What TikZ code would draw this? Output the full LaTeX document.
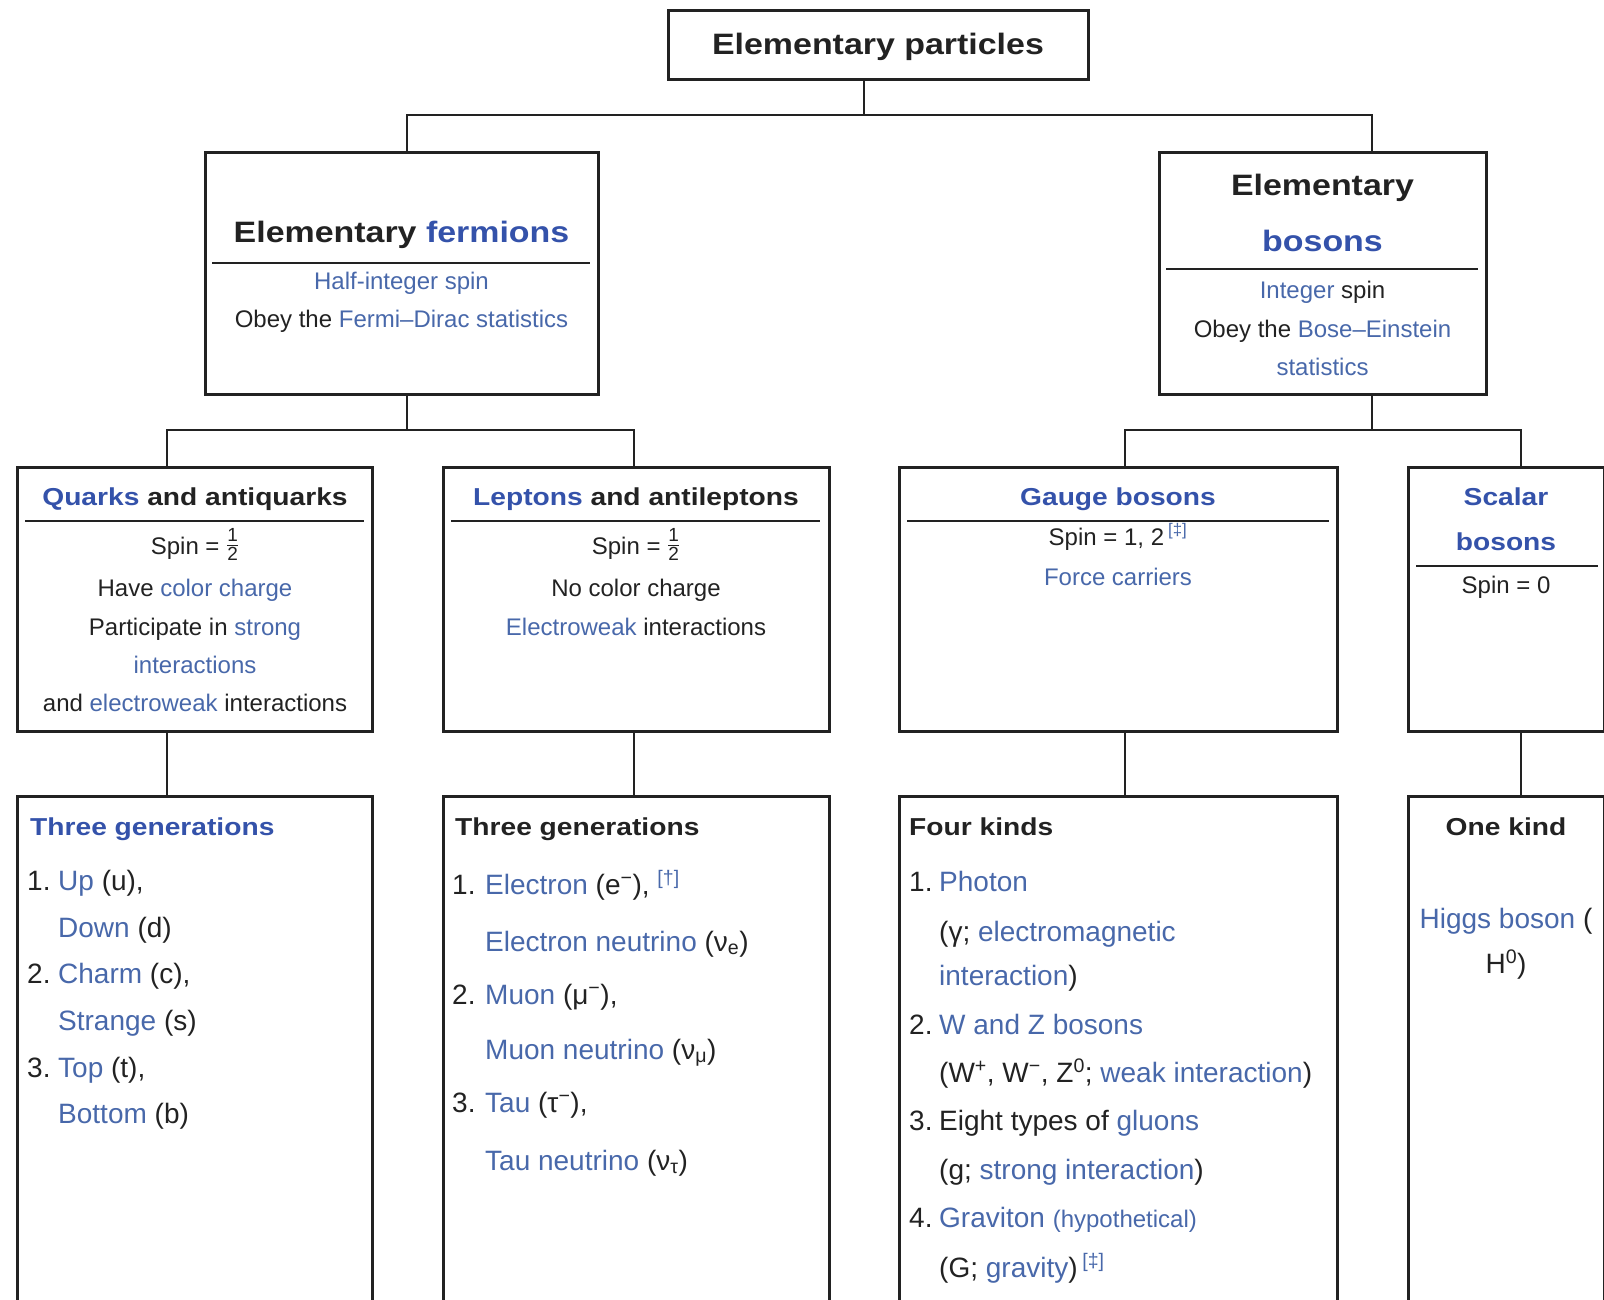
\documentclass[tikz,border=0pt]{standalone}
\usepackage{amsmath}
\usepackage{fontspec}
\setmainfont{Liberation Sans}[BoldFeatures={FakeStretch=1.15}]
\definecolor{ink}{RGB}{34,34,34}
\definecolor{linkblue}{RGB}{72,104,170}
\definecolor{headblue}{RGB}{52,82,170}
\newcommand{\lnk}[1]{\textcolor{linkblue}{#1}}
\newcommand{\hlnk}[1]{\textcolor{headblue}{#1}}
\newcommand{\fnote}[1]{\textsuperscript{\lnk{[#1]}}}
\newcommand{\fracnum}[1]{\text{\fontsize{19}{19}\selectfont #1}}
\newcommand{\spinhalf}{\raisebox{2.5pt}{$\frac{\fracnum{1}}{\fracnum{2}}$}}

\begin{document}
\begin{tikzpicture}[x=1pt,y=-1pt,
  box/.style={draw=ink,line width=3pt,inner sep=0pt,outer sep=0pt},
  conn/.style={draw=ink,line width=1.6pt},
  sepline/.style={draw=ink,line width=1.6pt},
  txt/.style={inner sep=0pt,anchor=base,text=ink},
  toptitle/.style={txt,font=\fontsize{29.5}{35}\selectfont\bfseries},
  boxhead/.style={txt,font=\fontsize{24.5}{30}\selectfont\bfseries},
  boxtext/.style={txt,font=\fontsize{24}{29}\selectfont},
  listhead/.style={boxhead,anchor=base west},
  listtext/.style={txt,anchor=base west,font=\fontsize{28}{34}\selectfont},
  midtext/.style={txt,font=\fontsize{28}{34}\selectfont}]
 \useasboundingbox (0,0) rectangle (1604,1299);

 \node[box,minimum width=420pt,minimum height=69pt] (top) at (878,44.5) {};
 \node[toptitle] (toplbl) at (878,54) {Elementary particles};

 \node[box,minimum width=393pt,minimum height=242pt] (ferm) at (401.5,273) {};
 \node[toptitle] (fermlbl) at (401.5,242) {Elementary \hlnk{fermions}};
 \draw[sepline] (212,263) -- (590,263);
 \node[boxtext] (ferm1) at (401.5,289) {\lnk{Half-integer spin}};
 \node[boxtext] (ferm2) at (401.5,327) {Obey the \lnk{Fermi–Dirac statistics}};

 \node[box,minimum width=327pt,minimum height=242pt] (bos) at (1322.5,273) {};
 \node[toptitle] (boslbl) at (1322.5,195) {Elementary};
 \node[toptitle] (boslbl2) at (1322.5,251) {\hlnk{bosons}};
 \draw[sepline] (1166,269) -- (1478,269);
 \node[boxtext] (bos1) at (1322.5,298) {\lnk{Integer} spin};
 \node[boxtext] (bos2) at (1322.5,337) {Obey the \lnk{Bose–Einstein}};
 \node[boxtext] (bos3) at (1322.5,375) {\lnk{statistics}};

 \node[box,minimum width=355pt,minimum height=264pt] (quark) at (194.5,599) {};
 \node[boxhead] (quarklbl) at (195,505) {\hlnk{Quarks} and antiquarks};
 \draw[sepline] (25,521) -- (364,521);
 \node[boxtext] (quark1) at (195,554) {Spin = \spinhalf};
 \node[boxtext] (quark2) at (195,596) {Have \lnk{color charge}};
 \node[boxtext] (quark3) at (195,635) {Participate in \lnk{strong}};
 \node[boxtext] (quark4) at (195,673) {\lnk{interactions}};
 \node[boxtext] (quark5) at (195,711) {and \lnk{electroweak} interactions};

 \node[box,minimum width=386pt,minimum height=264pt] (lept) at (636,599) {};
 \node[boxhead] (leptlbl) at (636,505) {\hlnk{Leptons} and antileptons};
 \draw[sepline] (451,521) -- (820,521);
 \node[boxtext] (lept1) at (636,554) {Spin = \spinhalf};
 \node[boxtext] (lept2) at (636,596) {No color charge};
 \node[boxtext] (lept3) at (636,635) {\lnk{Electroweak} interactions};

 \node[box,minimum width=438pt,minimum height=264pt] (gauge) at (1118,599) {};
 \node[boxhead] (gaugelbl) at (1118,505) {\hlnk{Gauge bosons}};
 \draw[sepline] (907,521) -- (1329,521);
 \node[boxtext] (gauge1) at (1118,545) {Spin = 1, 2\,\fnote{‡}};
 \node[boxtext] (gauge2) at (1118,585) {\lnk{Force carriers}};

 \node[box,minimum width=196pt,minimum height=264pt] (scal) at (1506,599) {};
 \node[boxhead] (scallbl) at (1506,505) {\hlnk{Scalar}};
 \node[boxhead] (scallbl2) at (1506,550) {\hlnk{bosons}};
 \draw[sepline] (1416,566) -- (1598,566);
 \node[boxtext] (scal1) at (1506,593) {Spin = 0};

 \node[box,minimum width=355pt,minimum height=516pt] (qgen) at (194.5,1054) {};
 \node[listhead] (qgenlbl) at (30,835) {\hlnk{Three generations}};
 \node[listtext] (qn1) at (27,890) {1.};
 \node[listtext] (qi1) at (58,890) {\lnk{Up} (u),};
 \node[listtext] (qi2) at (58,937) {\lnk{Down} (d)};
 \node[listtext] (qn2) at (27,983) {2.};
 \node[listtext] (qi3) at (58,983) {\lnk{Charm} (c),};
 \node[listtext] (qi4) at (58,1030) {\lnk{Strange} (s)};
 \node[listtext] (qn3) at (27,1077) {3.};
 \node[listtext] (qi5) at (58,1077) {\lnk{Top} (t),};
 \node[listtext] (qi6) at (58,1123) {\lnk{Bottom} (b)};

 \node[box,minimum width=386pt,minimum height=516pt] (lgen) at (636,1054) {};
 \node[listhead] (lgenlbl) at (455,835) {Three generations};
 \node[listtext] (ln1) at (452,894) {1.};
 \node[listtext] (li1) at (485,894) {\lnk{Electron} (e\textsuperscript{−}), \fnote{†}};
 \node[listtext] (li2) at (485,951) {\lnk{Electron neutrino} (ν\textsubscript{e})};
 \node[listtext] (ln2) at (452,1004) {2.};
 \node[listtext] (li3) at (485,1004) {\lnk{Muon} (μ\textsuperscript{−}),};
 \node[listtext] (li4) at (485,1059) {\lnk{Muon neutrino} (ν\textsubscript{μ})};
 \node[listtext] (ln3) at (452,1112) {3.};
 \node[listtext] (li5) at (485,1112) {\lnk{Tau} (τ\textsuperscript{−}),};
 \node[listtext] (li6) at (485,1170) {\lnk{Tau neutrino} (ν\textsubscript{τ})};

 \node[box,minimum width=438pt,minimum height=516pt] (ggen) at (1118,1054) {};
 \node[listhead] (ggenlbl) at (909,835) {Four kinds};
 \node[listtext] (gn1) at (909,891) {1.};
 \node[listtext] (gi1) at (939,891) {\lnk{Photon}};
 \node[listtext] (gi2) at (939,941) {(γ; \lnk{electromagnetic}};
 \node[listtext] (gi3) at (939,985) {\lnk{interaction})};
 \node[listtext] (gn2) at (909,1034) {2.};
 \node[listtext] (gi4) at (939,1034) {\lnk{W and Z bosons}};
 \node[listtext] (gi5) at (939,1082) {(W\textsuperscript{+}, W\textsuperscript{−}, Z\textsuperscript{0}; \lnk{weak interaction})};
 \node[listtext] (gn3) at (909,1130) {3.};
 \node[listtext] (gi6) at (939,1130) {Eight types of \lnk{gluons}};
 \node[listtext] (gi7) at (939,1179) {(g; \lnk{strong interaction})};
 \node[listtext] (gn4) at (909,1227) {4.};
 \node[listtext] (gi8) at (939,1227) {\lnk{Graviton} {\fontsize{24}{29}\selectfont\lnk{(hypothetical)}}};
 \node[listtext] (gi9) at (939,1277) {(G; \lnk{gravity})\,\fnote{‡}};

 \node[box,minimum width=196pt,minimum height=516pt] (sgen) at (1506,1054) {};
 \node[boxhead] (sgenlbl) at (1506,835) {One kind};
 \node[midtext] (si1) at (1506,928) {\lnk{Higgs boson} (};
 \node[midtext] (si2) at (1506,973) {H\textsuperscript{0})};

 \coordinate (jt) at (864,115);
 \coordinate (jf) at (407,115);
 \coordinate (jb) at (1372,115);
 \coordinate (jq) at (167,430);
 \coordinate (jl) at (634,430);
 \coordinate (jg) at (1125,430);
 \coordinate (js) at (1521,430);
 \draw[conn] (top.south -| jt) -- (jt);
 \draw[conn] (ferm.north -| jf) -- (jf) -- (jb) -- (bos.north -| jb);
 \draw[conn] (ferm.south -| jf) -- (jf |- jq);
 \draw[conn] (quark.north -| jq) -- (jq) -- (jl) -- (lept.north -| jl);
 \draw[conn] (bos.south -| jb) -- (jb |- jg);
 \draw[conn] (gauge.north -| jg) -- (jg) -- (js) -- (scal.north -| js);
 \draw[conn] (quark.south -| jq) -- (qgen.north -| jq);
 \draw[conn] (lept.south -| jl) -- (lgen.north -| jl);
 \draw[conn] (gauge.south -| jg) -- (ggen.north -| jg);
 \draw[conn] (scal.south -| js) -- (sgen.north -| js);
\end{tikzpicture}
\end{document}
